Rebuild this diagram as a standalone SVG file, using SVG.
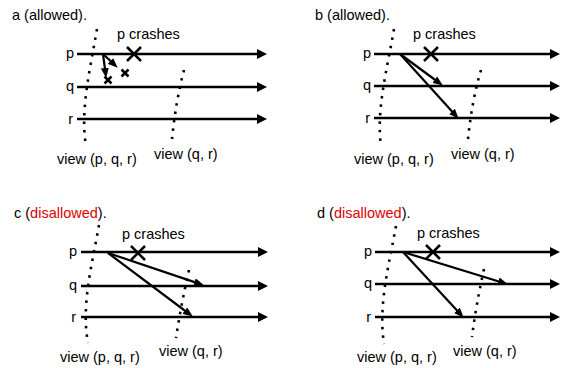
<svg xmlns="http://www.w3.org/2000/svg" width="561" height="368" viewBox="0 0 561 368">
<style>
text{font-family:"Liberation Sans",Arial,sans-serif;font-size:14.5px;fill:#000}
.lbl{text-anchor:end}
.red{fill:#e00000}
.tl{stroke:#000;stroke-width:2.6;fill:none;marker-end:url(#ah)}
.msg{stroke:#000;stroke-width:2.2;fill:none;marker-end:url(#mh)}
.view{stroke:#000;stroke-width:2.6;fill:none;stroke-dasharray:2.5 6}
.x{stroke:#000;stroke-width:2.5;fill:none}
</style>
<defs>
<marker id="ah" markerUnits="userSpaceOnUse" markerWidth="10" markerHeight="10" refX="4" refY="5" orient="auto"><path d="M0,0 L10,5 L0,10 z" fill="#000"/></marker>
<marker id="mh" markerUnits="userSpaceOnUse" markerWidth="10" markerHeight="8" refX="4" refY="4" orient="auto"><path d="M0,0 L10,4 L0,8 z" fill="#000"/></marker>
</defs>

<g id="panel-a">
<text x="12" y="20">a (allowed).</text>
<g id="a-p"><text class="lbl" x="74" y="58">p</text><line class="tl" x1="77" y1="54" x2="261" y2="54"/></g>
<g id="a-q"><text class="lbl" x="74" y="91">q</text><line class="tl" x1="77" y1="87" x2="261" y2="87"/></g>
<g id="a-r"><text class="lbl" x="73" y="124">r</text><line class="tl" x1="77" y1="119" x2="261" y2="119"/></g>
<g id="a-crash"><text x="117" y="39">p crashes</text><path class="x" d="M127,47 L141,61 M141,47 L127,61"/></g>
<g id="a-view1"><path class="view" d="M97,29 C90,70 80,110 86,146"/><text x="57" y="164">view (p, q, r)</text></g>
<g id="a-view2"><path class="view" d="M184,70 Q176,100 172,139"/><text x="154" y="159">view (q, r)</text></g>
<g id="a-lost"><path class="x" d="M104.5,76.5 L111.5,83.5 M111.5,76.5 L104.5,83.5 M121.5,69.5 L128.5,76.5 M128.5,69.5 L121.5,76.5"/></g>
</g>

<g id="panel-b">
<text x="315" y="20">b (allowed).</text>
<g id="b-p"><text class="lbl" x="371" y="58">p</text><line class="tl" x1="374" y1="54" x2="554" y2="54"/></g>
<g id="b-q"><text class="lbl" x="371" y="90">q</text><line class="tl" x1="374" y1="86" x2="554" y2="86"/></g>
<g id="b-r"><text class="lbl" x="370" y="123">r</text><line class="tl" x1="374" y1="118" x2="554" y2="118"/></g>
<g id="b-crash"><text x="413" y="39">p crashes</text><path class="x" d="M424,47 L438,61 M438,47 L424,61"/></g>
<g id="b-view1"><path class="view" d="M394,29 C387,70 376,110 381,146"/><text x="354" y="164">view (p, q, r)</text></g>
<g id="b-view2"><path class="view" d="M481,70 Q472,100 468,139"/><text x="451" y="159">view (q, r)</text></g>
</g>

<g id="panel-c">
<text x="14" y="218">c (<tspan class="red">disallowed</tspan>).</text>
<g id="c-p"><text class="lbl" x="77" y="256">p</text><line class="tl" x1="81" y1="252" x2="262" y2="252"/></g>
<g id="c-q"><text class="lbl" x="77" y="290">q</text><line class="tl" x1="81" y1="286" x2="262" y2="286"/></g>
<g id="c-r"><text class="lbl" x="76" y="322">r</text><line class="tl" x1="81" y1="317" x2="262" y2="317"/></g>
<g id="c-crash"><text x="122" y="239">p crashes</text><path class="x" d="M131,246 L145,260 M145,246 L131,260"/></g>
<g id="c-view1"><path class="view" d="M99,225 C92,265 81,305 88,343"/><text x="60" y="362">view (p, q, r)</text></g>
<g id="c-view2"><path class="view" d="M189,270 Q181,305 176,338"/><text x="159" y="356">view (q, r)</text></g>
</g>

<g id="panel-d">
<text x="317" y="218">d (<tspan class="red">disallowed</tspan>).</text>
<g id="d-p"><text class="lbl" x="372" y="256">p</text><line class="tl" x1="375" y1="252" x2="554" y2="252"/></g>
<g id="d-q"><text class="lbl" x="372" y="288">q</text><line class="tl" x1="375" y1="284" x2="554" y2="284"/></g>
<g id="d-r"><text class="lbl" x="371" y="322">r</text><line class="tl" x1="375" y1="317" x2="554" y2="317"/></g>
<g id="d-crash"><text x="417" y="238">p crashes</text><path class="x" d="M426,245 L440,259 M440,245 L426,259"/></g>
<g id="d-view1"><path class="view" d="M396,226 C389,265 378,305 384,344"/><text x="357" y="362">view (p, q, r)</text></g>
<g id="d-view2"><path class="view" d="M484,269 Q476,305 472,337"/><text x="453" y="356">view (q, r)</text></g>
</g>

<g id="connectors">
<line class="msg" x1="103" y1="54" x2="105.4" y2="72"/>
<line class="msg" x1="103" y1="54" x2="113.3" y2="63.6"/>
<line class="msg" x1="400" y1="54" x2="438" y2="82"/>
<line class="msg" x1="400" y1="54" x2="454.6" y2="114.3"/>
<line class="msg" x1="108" y1="253" x2="198.3" y2="283.4"/>
<line class="msg" x1="108" y1="253" x2="188" y2="313"/>
<line class="msg" x1="403" y1="252" x2="502.2" y2="282.5"/>
<line class="msg" x1="403" y1="252" x2="459.6" y2="313.3"/>
</g>
</svg>
